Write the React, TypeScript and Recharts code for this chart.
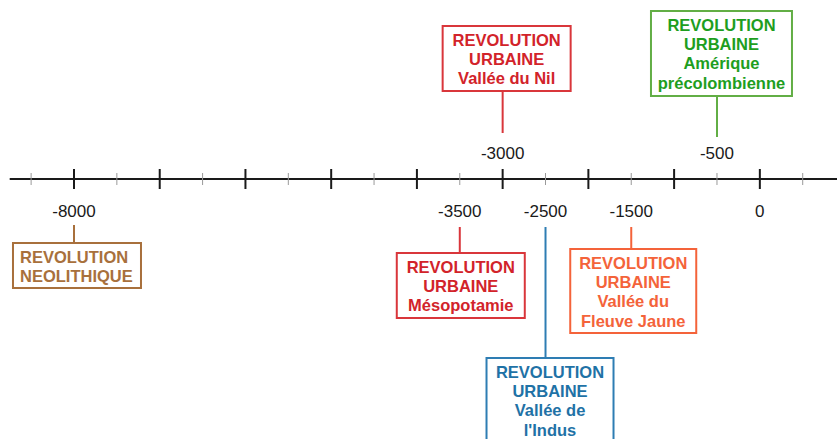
import React from 'react';
import { ComposedChart, XAxis, YAxis, Scatter, ReferenceLine } from 'recharts';

// timeline range (years)
const axisStart = -8750;
const axisEnd = 900;

const majorTickYears = [-8000, -7000, -6000, -5000, -4000, -3000, -2000, -1000, 0];
const minorTickYears = [-8500, -7500, -6500, -5500, -4500, -3500, -2500, -1500, -500, 500];

const tickLabelYears = [-8000, -3500, -3000, -2500, -1500, -500, 0];
const tickLabels = ['-8000', '-3500', '-3000', '-2500', '-1500', '-500', '0'];
const tickLabelAbove = [false, false, true, false, false, true, false];

const eventYears = [-8000, -3500, -3000, -2500, -1500, -500];
const eventLines = [
  ['REVOLUTION', 'NEOLITHIQUE'],
  ['REVOLUTION', 'URBAINE', 'Mésopotamie'],
  ['REVOLUTION', 'URBAINE', 'Vallée du Nil'],
  ['REVOLUTION', 'URBAINE', 'Vallée de', "l'Indus"],
  ['REVOLUTION', 'URBAINE', 'Vallée du', 'Fleuve Jaune'],
  ['REVOLUTION', 'URBAINE', 'Amérique', 'précolombienne'],
];

// styles / layout for each event box (offsets relative to the point on the axis)
const boxStyles = [
  { text: '#A8703C', border: '#A8703C', dx: -62, top: 63, w: 130, h: 47, stem: 46, align: 'start' },
  { text: '#D2232A', border: '#D9363B', dx: -64, top: 73, w: 130, h: 67, stem: 48, align: 'middle' },
  { text: '#D2232A', border: '#D9363B', dx: -61, top: -154, w: 130, h: 67, stem: -46, align: 'middle' },
  { text: '#1F72A6', border: '#2E7DB3', dx: -60, top: 178, w: 129, h: 92, stem: 48, align: 'middle' },
  { text: '#F4633A', border: '#F4633A', dx: -62, top: 69, w: 128, h: 86, stem: 48, align: 'middle' },
  { text: '#1E9E1E', border: '#62AE45', dx: -67, top: -169, w: 143, h: 87, stem: -42, align: 'middle' },
];

const FONT = '"Liberation Sans", Arial, Helvetica, sans-serif';

const tickData = [
  ...majorTickYears.map(year => ({ year, y: 0, major: true })),
  ...minorTickYears.map(year => ({ year, y: 0, major: false })),
];
const labelData = tickLabelYears.map((year, i) => ({
  year,
  y: 0,
  label: tickLabels[i],
  above: tickLabelAbove[i],
}));
const eventData = eventYears.map((year, i) => ({ year, y: 0, lines: eventLines[i], idx: i }));

const TickMark = (props: any) => {
  const { cx, cy, payload } = props;
  if (payload.major) {
    return <line x1={cx} x2={cx} y1={cy - 10} y2={cy + 10} stroke="#1a1a1a" strokeWidth={2} />;
  }
  return <line x1={cx} x2={cx} y1={cy - 6} y2={cy + 6} stroke="#9a9a9a" strokeWidth={1} />;
};

const TickText = (props: any) => {
  const { cx, cy, payload } = props;
  return (
    <text
      x={cx}
      y={payload.above ? cy - 26 : cy + 32}
      textAnchor="middle"
      dominantBaseline="central"
      fontFamily={FONT}
      fontSize={17}
      fill="#1a1a1a"
    >
      {payload.label}
    </text>
  );
};

const EventBox = (props: any) => {
  const { cx, cy, payload } = props;
  const s = boxStyles[payload.idx];
  const left = cx + s.dx;
  const top = cy + s.top;
  const above = s.top < 0;
  const stemFrom = cy + s.stem;
  const stemTo = above ? top + s.h : top;
  const textX = s.align === 'start' ? left + 8 : left + s.w / 2;
  return (
    <g>
      <line x1={cx} x2={cx} y1={stemFrom} y2={stemTo} stroke={s.border} strokeWidth={2} />
      <rect x={left + 1} y={top + 1} width={s.w - 2} height={s.h - 2} fill="#fff" stroke={s.border} strokeWidth={2} />
      {payload.lines.map((line: string, k: number) => (
        <text
          key={k}
          x={textX}
          y={top + 14.5 + k * 19.4}
          textAnchor={s.align}
          dominantBaseline="central"
          fontFamily={FONT}
          fontSize={16.5}
          fontWeight="bold"
          fill={s.text}
        >
          {line}
        </text>
      ))}
    </g>
  );
};

export default function App() {
  return (
    <div style={{ position: 'absolute', left: 0, top: 0, width: 837, height: 439, background: '#fff' }}>
      <ComposedChart width={837} height={439} margin={{ top: 0, right: 0, bottom: 0, left: 0 }}>
        <XAxis type="number" dataKey="year" domain={[-8863, 900]} hide />
        <YAxis type="number" dataKey="y" domain={[-260, 179]} hide />
        <ReferenceLine
          segment={[
            { x: axisStart, y: 0 },
            { x: axisEnd, y: 0 },
          ]}
          stroke="#1a1a1a"
          strokeWidth={2}
          ifOverflow="visible"
        />
        <Scatter data={tickData} shape={TickMark} isAnimationActive={false} />
        <Scatter data={labelData} shape={TickText} isAnimationActive={false} />
        <Scatter data={eventData} shape={EventBox} isAnimationActive={false} />
      </ComposedChart>
    </div>
  );
}
